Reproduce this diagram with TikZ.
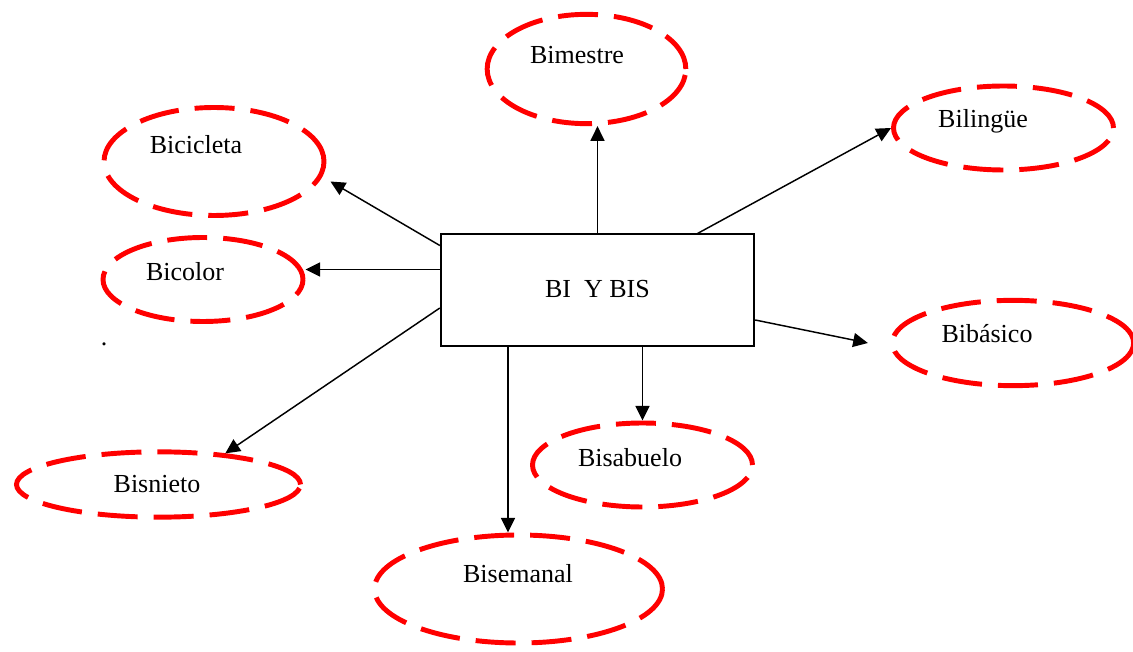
\documentclass[tikz,border=0pt]{standalone}
\usepackage{fontspec}
\setmainfont{Liberation Serif}
\usepackage{xcolor}
\usepackage{tikz}
\usetikzlibrary{shapes.geometric}
\usetikzlibrary{arrows.meta}
\usetikzlibrary{calc}

\begin{document}
\begin{tikzpicture}[x=0.75pt, y=-0.75pt,
        oval/.style={ellipse, draw=red, line width=3.7pt,
            dash pattern=on 30pt off 12pt, inner sep=0pt},
        word/.style={anchor=base, font=\fontsize{19.5}{23}\selectfont},
        link/.style={-{Triangle[length=11pt, width=10.5pt]}, line width=1.1pt}]
        \useasboundingbox (0, 0) rectangle (1133, 652);

        \node[draw, line width=1.5pt, minimum width=235pt, minimum height=84pt,
            inner sep=0pt] (box) at (597.5, 290.5) {};
        \node[word] (boxtext) at (597.5, 298) {BI\ \ Y BIS};

        \node[oval, minimum width=149pt, minimum height=82pt] (bimestre) at (586.5, 69) {};
        \node[oval, minimum width=165pt, minimum height=81pt] (bicicleta) at (214, 161.5) {};
        \node[oval, minimum width=150pt, minimum height=63pt] (bicolor) at (203, 279.5) {};
        \node[oval, minimum width=165pt, minimum height=63pt] (bilingue) at (1003.5, 128) {};
        \node[oval, minimum width=181pt, minimum height=64pt] (bibasico) at (1013, 343) {};
        \node[oval, minimum width=213pt, minimum height=49pt] (bisnieto) at (158.5, 484.5) {};
        \node[oval, minimum width=165pt, minimum height=63pt] (bisabuelo) at (642.5, 465) {};
        \node[oval, minimum width=216pt, minimum height=81pt] (bisemanal) at (518.5, 589) {};

        \node[word] (bimestretext) at (577, 64) {Bimestre};
        \node[word] (bicicletatext) at (196, 154) {Bicicleta};
        \node[word] (bicolortext) at (185, 281) {Bicolor};
        \node[word] (bilinguetext) at (983, 128) {Bilingüe};
        \node[word] (bibasicotext) at (987, 343) {Bibásico};
        \node[word] (bisnietotext) at (157, 493) {Bisnieto};
        \node[word] (bisabuelotext) at (630, 467) {Bisabuelo};
        \node[word] (bisemanaltext) at (518, 582) {Bisemanal};
        \node[word] (dot) at (104, 346) {.};

        \draw[link] (box.north) -- (box.north |- bimestre.south);
        \draw[link] ($(box.north) + (100, 0)$) -- (bilingue.west);
        \draw[link] ($(box.west) + (0, -45)$) -- ($(bicicleta.east) + (4, 20)$);
        \draw[link] ($(box.west) + (0, -21)$) coordinate (cs) -- (cs -| bicolor.east);
        \draw[link] ($(box.west) + (0, 17.5)$) -- (bisnieto.25);
        \draw[link] ($(box.south) + (-89.5, 0)$) coordinate (cm) -- (cm |- bisemanal.north);
        \draw[link] (box.south -| bisabuelo.north) -- (bisabuelo.north);
        \draw[link] ($(box.east) + (0, 29.5)$) -- ($(bibasico.west) + (-22, 0)$);
\end{tikzpicture}
\end{document}
